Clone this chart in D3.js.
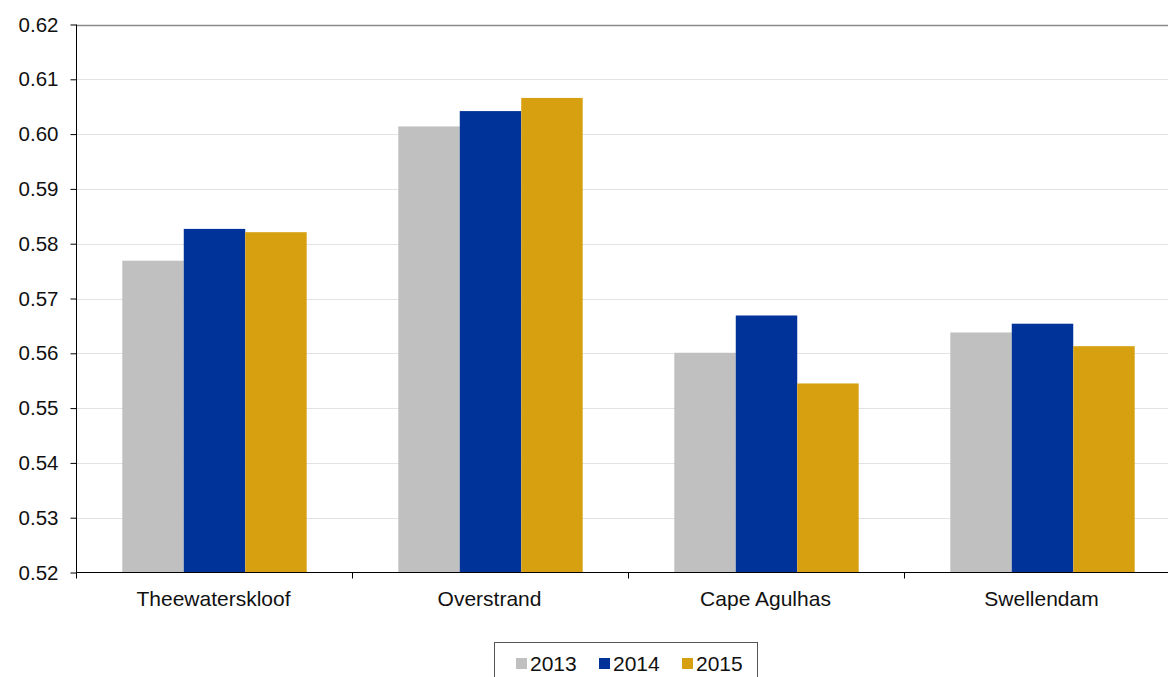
<!DOCTYPE html>
<html>
<head>
<meta charset="utf-8">
<script src="https://cdn.jsdelivr.net/npm/d3@7"></script>
<style>
  html, body { margin: 0; padding: 0; background: #fff; }
  svg { display: block; font-family: "Liberation Sans", Arial, sans-serif; }
</style>
</head>
<body>
<svg id="chart" width="1168" height="677"></svg>
<script>
// Municipalities along the x axis
const categories = ["Theewaterskloof", "Overstrand", "Cape Agulhas", "Swellendam"];
// One value per municipality for each year
const years = ["2013", "2014", "2015"];
const values2013 = [0.5769, 0.6014, 0.5601, 0.5638];
const values2014 = [0.5827, 0.6042, 0.5669, 0.5654];
const values2015 = [0.5821, 0.6066, 0.5545, 0.5613];
const yTicks = [0.52, 0.53, 0.54, 0.55, 0.56, 0.57, 0.58, 0.59, 0.60, 0.61, 0.62];
const colors = ["#c0c0c0", "#003399", "#d6a011"];

const seriesValues = [values2013, values2014, values2015];

const svg = d3.select("#chart");
const plotLeft = 76.5, plotRight = 1180.5, plotTop = 24.5, plotBottom = 572.5;

const x = d3.scaleBand().domain(categories).range([plotLeft, plotRight]).paddingInner(0).paddingOuter(0);
const xInner = d3.scaleBand().domain(years).range([0, x.bandwidth()]).paddingInner(0).paddingOuter(0.745);
const y = d3.scaleLinear().domain([0.52, 0.62]).range([plotBottom, plotTop]);

// Horizontal gridlines
svg.append("g")
  .selectAll("line")
  .data(yTicks.slice(1))
  .join("line")
  .attr("x1", plotLeft).attr("x2", plotRight)
  .attr("y1", d => Math.round(y(d)) + 0.5).attr("y2", d => Math.round(y(d)) + 0.5)
  .attr("stroke", (d, i, n) => i === n.length - 1 ? "#8a8a8a" : "#e2e2e2")
  .attr("stroke-width", (d, i, n) => i === n.length - 1 ? 1.5 : 1);

// Bars
const groups = svg.append("g")
  .selectAll("g")
  .data(categories)
  .join("g")
  .attr("transform", d => `translate(${x(d)},0)`);

groups.selectAll("rect")
  .data((c, ci) => years.map((yr, si) => ({ yr, si, v: seriesValues[si][ci] })))
  .join("rect")
  .attr("x", d => xInner(d.yr))
  .attr("width", xInner.bandwidth())
  .attr("y", d => y(d.v))
  .attr("height", d => plotBottom - y(d.v))
  .attr("fill", d => colors[d.si]);

// Y axis
const yAxis = d3.axisLeft(y).tickValues(yTicks).tickFormat(d3.format(".2f")).tickSize(6).tickPadding(12);
const gy = svg.append("g").attr("transform", `translate(${plotLeft},0)`).call(yAxis);
gy.select(".domain").attr("stroke", "#000").attr("d", `M0,${plotTop}V${plotBottom}`);
gy.selectAll(".tick line").attr("stroke", "#000");
gy.selectAll(".tick text").attr("font-size", 20.5).attr("fill", "#111").attr("font-family", "Liberation Sans, Arial, sans-serif");

// X axis with ticks at category boundaries
const gx = svg.append("g").attr("transform", `translate(0,${plotBottom})`);
gx.append("line").attr("x1", plotLeft).attr("x2", plotRight).attr("stroke", "#000");
gx.selectAll(".bound")
  .data(categories)
  .join("line")
  .attr("class", "bound")
  .attr("x1", d => x(d)).attr("x2", d => x(d))
  .attr("y1", 0).attr("y2", 6)
  .attr("stroke", "#000");
gx.selectAll("text")
  .data(categories)
  .join("text")
  .attr("x", d => x(d) + x.bandwidth() / 2 - 1)
  .attr("y", 33.5)
  .attr("text-anchor", "middle")
  .attr("font-size", 21)
  .attr("fill", "#111")
  .text(d => d);

// Legend
const legend = svg.append("g");
legend.append("rect")
  .attr("x", 494.5).attr("y", 642.5)
  .attr("width", 263).attr("height", 50)
  .attr("fill", "#fff").attr("stroke", "#555").attr("stroke-width", 1);
const legendX = [516, 599, 682];
const items = legend.selectAll(".item")
  .data(years)
  .join("g")
  .attr("class", "item")
  .attr("transform", (d, i) => `translate(${legendX[i]},0)`);
items.append("rect")
  .attr("x", 0).attr("y", 658).attr("width", 11).attr("height", 11)
  .attr("fill", (d, i) => colors[i]);
items.append("text")
  .attr("x", 14).attr("y", 671)
  .attr("font-size", 21)
  .attr("fill", "#111")
  .text(d => d);
</script>
</body>
</html>
